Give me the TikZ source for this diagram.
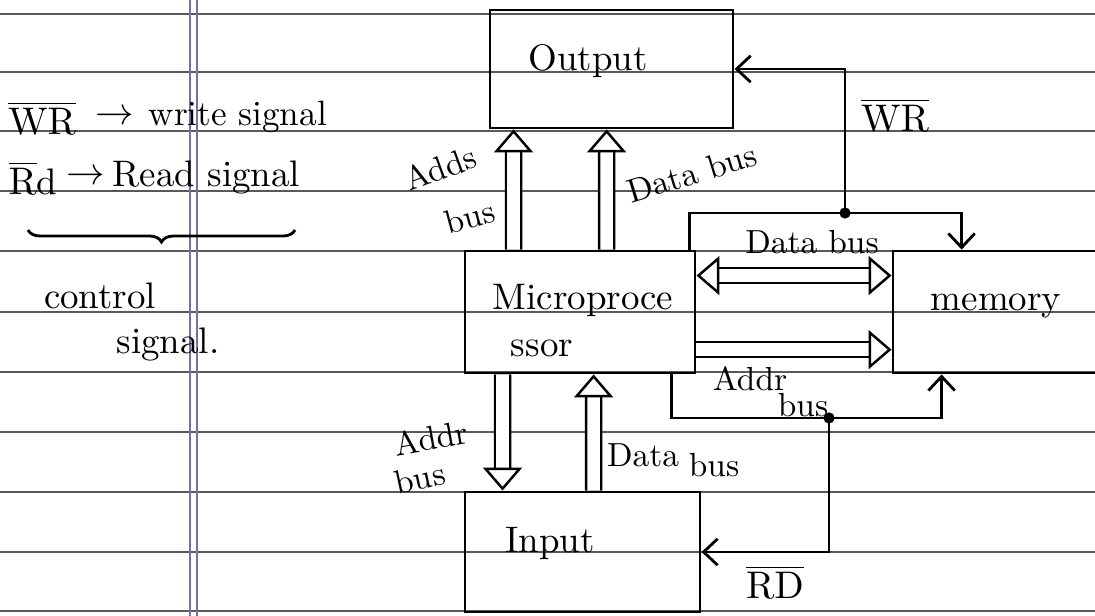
\documentclass[tikz,border=0pt]{standalone}
\usetikzlibrary{arrows.meta,decorations.pathreplacing}
\tikzset{
  box/.style={draw, line width=0.8pt, inner sep=0pt},
  lbl/.style={inner sep=0pt, font=\fontsize{10.5}{12}\selectfont},
  small/.style={lbl, font=\fontsize{9.5}{11}\selectfont},
  bushead/.tip={Triangle[open, length=6.5pt, width=11pt, line width=0.7pt]},
  bus/.style={double, double distance=3.6pt, line width=0.7pt, -bushead},
  busboth/.style={bus, bushead-bushead},
  ctl/.style={line width=0.8pt, -{Straight Barb[length=4pt, width=7.5pt]}},
  rule/.style={black!65, line width=0.45pt},
  margin/.style={blue!30!black!55, line width=0.4pt}
}
\begin{document}
\begin{tikzpicture}[x=0.01cm,y=-0.01cm]
  \clip (0,0) rectangle (1095,616);
  \fill[white] (0,0) rectangle (1095,616);
  \foreach \y in {14,72,131,191,251,312,372,432,492,552,611}
    \draw[rule] (0,\y) -- (1095,\y);
  \foreach \x in {190,197}
    \draw[margin] (\x,0) -- (\x,616);

  \node[box, minimum width=2.43cm, minimum height=1.18cm] (out) at (611.5,69) {};
  \node[box, minimum width=2.30cm, minimum height=1.22cm] (micro) at (580,312) {};
  \node[box, minimum width=2.17cm, minimum height=1.22cm] (mem) at (1001.5,312) {};
  \node[box, minimum width=2.35cm, minimum height=1.20cm] (in) at (582.5,552) {};
  \node[lbl] (outT) at (588,61) {Output};
  \node[lbl] (microT) at (583,300) {Microproce};
  \node[lbl] (microS) at (542,348) {ssor};
  \node[lbl] (memT) at (996,306) {memory};
  \node[lbl] (inT) at (550,543) {Input};

  \draw[bus] ([xshift=0.5cm]micro.north west) -- ([xshift=0.25cm]out.south west);
  \draw[bus] ([xshift=1.43cm]micro.north west) -- ([xshift=1.18cm]out.south west);
  \draw[bus] ([xshift=0.39cm]micro.south west) -- ([xshift=0.39cm]in.north west);
  \draw[bus] ([xshift=1.30cm]in.north west) -- ([xshift=1.30cm]micro.south west);
  \draw[busboth] ([yshift=-0.26cm]micro.north east) -- ([yshift=-0.26cm]mem.north west);
  \draw[bus] ([yshift=-1.0cm]micro.north east) -- ([yshift=-1.0cm]mem.north west);

  \coordinate (wrJ) at (845,213);
  \coordinate (rdJ) at (829,418);
  \draw[ctl] ([xshift=-0.07cm]micro.north east) |- (wrJ) -| ([xshift=0.7cm]mem.north west);
  \draw[ctl] (wrJ) |- (out.east);
  \draw[ctl] ([xshift=-0.25cm]micro.south east) |- (rdJ) -| ([xshift=0.5cm]mem.south west);
  \draw[ctl] (rdJ) |- (in.east);
  \fill (wrJ) circle (1.6pt);
  \fill (rdJ) circle (1.6pt);

  \node[small, rotate=20] (oaT) at (440,168) {Adds};
  \node[small, rotate=15] (oaB) at (470,217) {bus};
  \node[small, rotate=17] (odT) at (692,173) {Data bus};
  \node[small] (mdT) at (812,242) {Data bus};
  \node[small] (maT) at (750,379) {Addr};
  \node[small] (maB) at (803,405) {bus};
  \node[small, rotate=10] (iaT) at (431,438) {Addr};
  \node[small, rotate=12] (iaB) at (420,478) {bus};
  \node[small] (idT) at (643,455) {Data};
  \node[small] (idB) at (714,465) {bus};
  \node[lbl] (wrL) at (895,115) {$\overline{\mathrm{WR}}$};
  \node[lbl] (rdL) at (775,582) {$\overline{\mathrm{RD}}$};

  \node[lbl] (wrSym) at (42,118) {$\overline{\mathrm{WR}}$};
  \node[lbl] (wrArr) at (115,117) {$\rightarrow$};
  \node[lbl, anchor=west, font=\fontsize{10}{12}\selectfont] (wrTxt) at (148,117) {write signal};
  \node[lbl] (rdSym) at (33,178) {$\overline{\mathrm{R}}$d};
  \node[lbl] (rdArr) at (86,177) {$\rightarrow$};
  \node[lbl, anchor=west] (rdTxt) at (112,177) {Read signal};
  \draw[line width=0.8pt, decorate, decoration={brace, mirror, amplitude=0.12cm}] (28,230) -- (295,230);
  \node[lbl] (ctlA) at (100,296) {control};
  \node[lbl] (ctlB) at (168,344) {signal.};
\end{tikzpicture}
\end{document}
